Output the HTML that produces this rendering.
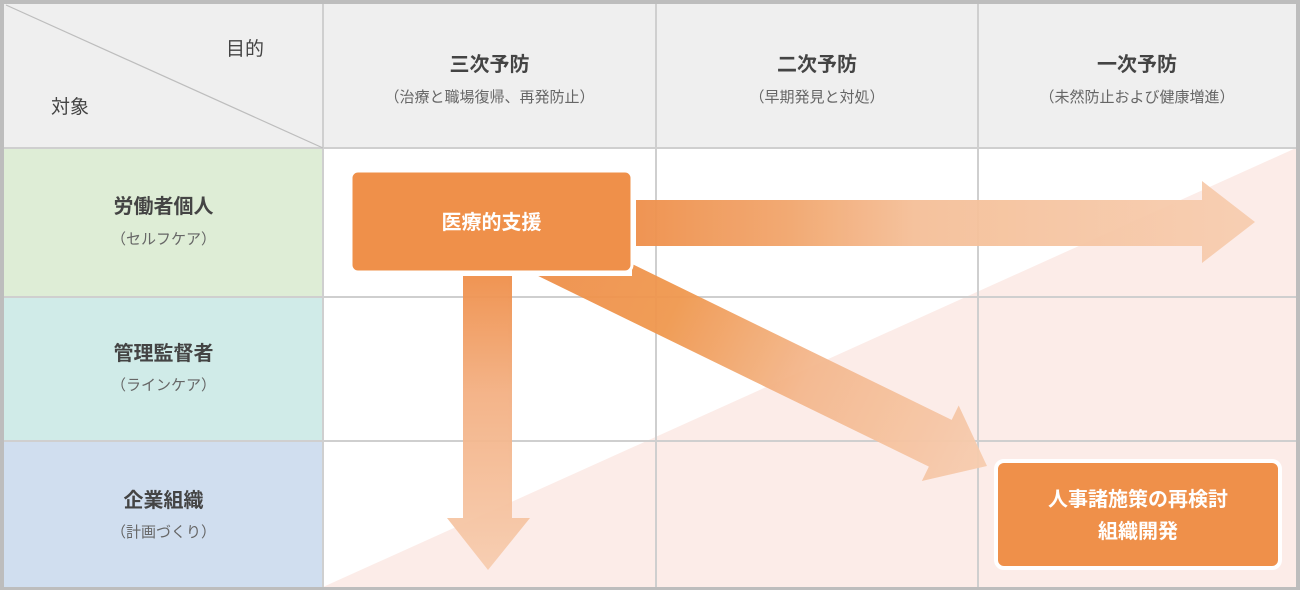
<!DOCTYPE html>
<html><head><meta charset="utf-8"><style>
html,body{margin:0;padding:0;background:#fff}
body{width:1300px;height:590px;position:relative;overflow:hidden;font-family:"Liberation Sans","Noto Sans CJK JP",sans-serif}
.t{position:absolute;text-align:center;color:#444}
</style></head><body>
<svg width="1300" height="590" style="position:absolute;left:0;top:0">
<defs>
<linearGradient id="gh" x1="636" y1="0" x2="1255" y2="0" gradientUnits="userSpaceOnUse">
<stop offset="0" stop-color="#ef8f4a"/><stop offset="0.25" stop-color="#f2a66d"/><stop offset="0.45" stop-color="#f5bf98"/><stop offset="1" stop-color="#f7cdb0"/>
</linearGradient>
<linearGradient id="gv" x1="0" y1="276" x2="0" y2="570" gradientUnits="userSpaceOnUse">
<stop offset="0" stop-color="#ef8f4a"/><stop offset="0.4" stop-color="#f3b083"/><stop offset="1" stop-color="#f7cdb0"/>
</linearGradient>
<linearGradient id="gd" x1="-500" y1="0" x2="0" y2="0" gradientUnits="userSpaceOnUse">
<stop offset="0" stop-color="#ef8f4a"/><stop offset="0.3" stop-color="#f0984f"/><stop offset="0.6" stop-color="#f4b88e"/><stop offset="1" stop-color="#f7cdb0"/>
</linearGradient>
<clipPath id="cd"><polygon points="0,276 632,276 632,0 1300,0 1300,590 0,590"/></clipPath>
</defs>
<rect x="0" y="0" width="1300" height="590" fill="#bdbdbd"/>
<rect x="4" y="4" width="1292" height="583" fill="#fff"/>
<rect x="4" y="4" width="1292" height="144" fill="#efefef"/>
<rect x="4" y="148" width="319" height="149" fill="#deedd6"/>
<rect x="4" y="297" width="319" height="144" fill="#d0ebe8"/>
<rect x="4" y="441" width="319" height="146" fill="#d0deef"/>
<polygon points="323,587 1296,587 1296,148" fill="#fcece8"/>
<g stroke="#cfcfcf" stroke-width="2">
<line x1="323" y1="4" x2="323" y2="587"/>
<line x1="656" y1="4" x2="656" y2="587"/>
<line x1="978" y1="4" x2="978" y2="587"/>
<line x1="4" y1="148" x2="1296" y2="148"/>
<line x1="4" y1="297" x2="1296" y2="297"/>
<line x1="4" y1="441" x2="1296" y2="441"/>
</g>
<line x1="6" y1="5" x2="323" y2="148" stroke="#bdbdbd" stroke-width="1.2"/>
<g opacity="0.95">
<polygon points="636,200 1202,200 1202,181 1255,222 1202,263 1202,246 636,246" fill="url(#gh)"/>
<polygon points="463,276 512,276 512,518 530,518 488,570 447,518 463,518" fill="url(#gv)"/>
<g clip-path="url(#cd)">
<g transform="translate(987,466) rotate(26)">
<polygon points="-500,-26 -52,-26 -52,-42 0,0 -52,42 -52,26 -500,26" fill="url(#gd)"/>
</g>
</g>
</g>
<rect x="351" y="171" width="281" height="101" rx="7" fill="#ef904a" stroke="#fff" stroke-width="3"/>
<rect x="996" y="461" width="284" height="107" rx="8" fill="#ef904a" stroke="#fff" stroke-width="4"/>
</svg>
<div class="t" style="left:205px;top:34px;width:80px;font-size:19px">目的</div>
<div class="t" style="left:30px;top:92px;width:80px;font-size:19px">対象</div>
<div class="t" style="left:323px;top:48px;width:333px;font-size:20px;font-weight:bold">三次予防</div>
<div class="t" style="left:323px;top:86px;width:333px;font-size:15px;color:#666">（治療と職場復帰、再発防止）</div>
<div class="t" style="left:656px;top:48px;width:322px;font-size:20px;font-weight:bold">二次予防</div>
<div class="t" style="left:656px;top:86px;width:322px;font-size:15px;color:#666">（早期発見と対処）</div>
<div class="t" style="left:978px;top:48px;width:318px;font-size:20px;font-weight:bold">一次予防</div>
<div class="t" style="left:978px;top:86px;width:318px;font-size:15px;color:#666">（未然防止および健康増進）</div>
<div class="t" style="left:4px;top:190px;width:319px;font-size:20px;font-weight:bold">労働者個人</div>
<div class="t" style="left:4px;top:228px;width:319px;font-size:15px;color:#666">（セルフケア）</div>
<div class="t" style="left:4px;top:337px;width:319px;font-size:20px;font-weight:bold">管理監督者</div>
<div class="t" style="left:4px;top:374px;width:319px;font-size:15px;color:#666">（ラインケア）</div>
<div class="t" style="left:4px;top:484px;width:319px;font-size:20px;font-weight:bold">企業組織</div>
<div class="t" style="left:4px;top:521px;width:319px;font-size:15px;color:#666">（計画づくり）</div>
<div class="t" style="left:351px;top:206px;width:281px;font-size:20px;font-weight:bold;color:#fff">医療的支援</div>
<div class="t" style="left:996px;top:484px;width:284px;font-size:20px;font-weight:bold;color:#fff;line-height:32px">人事諸施策の再検討<br>組織開発</div>
</body></html>
